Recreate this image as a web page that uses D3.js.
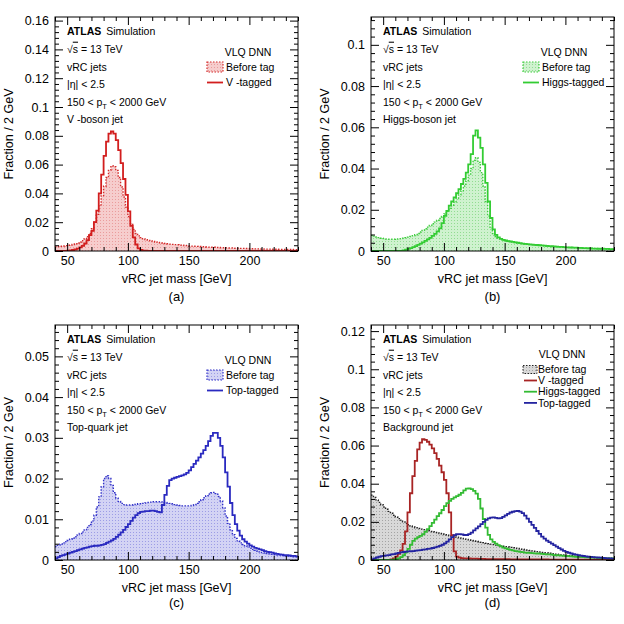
<!DOCTYPE html>
<html><head><meta charset="utf-8">
<script src="https://cdn.jsdelivr.net/npm/d3@7"></script>
<style>
body{margin:0;background:#fff}
svg{display:block}
text{font-family:"Liberation Sans",Arial,Helvetica,sans-serif;fill:#000}
</style>
</head><body>
<svg id="chart" width="624" height="624"></svg>
<script>
// ---------- data ----------
const binStart = 40, binWidth = 2;           // 100 bins of 2 GeV: 40..240
const xTicks = [50, 100, 150, 200];
const aYTicks = [0, 0.02, 0.04, 0.06, 0.08, 0.1, 0.12, 0.14, 0.16];
const bYTicks = [0, 0.02, 0.04, 0.06, 0.08, 0.1];
const cYTicks = [0, 0.01, 0.02, 0.03, 0.04, 0.05];
const dYTicks = [0, 0.02, 0.04, 0.06, 0.08, 0.1, 0.12];

// (a) V-boson jet
const aBefore = [
.0030,.0031,.0033,.0035,.0037,.0040,.0042,.0045,.0050,.0056,
.0063,.0072,.0085,.0100,.0122,.0155,.0200,.0255,.0320,.0385,
.0450,.0510,.0560,.0590,.0585,.0560,.0510,.0445,.0375,.0305,
.0240,.0190,.0150,.0122,.0105,.0093,.0085,.0079,.0074,.0070,
.0066,.0063,.0060,.0057,.0055,.0052,.0050,.0048,.0046,.0044,
.0043,.0041,.0040,.0038,.0037,.0035,.0034,.0033,.0032,.0031,
.0030,.0029,.0028,.0027,.0026,.0026,.0025,.0024,.0023,.0023,
.0022,.0021,.0021,.0020,.0019,.0019,.0018,.0018,.0017,.0017,
.0016,.0016,.0015,.0015,.0014,.0014,.0013,.0013,.0013,.0012,
.0012,.0012,.0011,.0011,.0011,.0010,.0010,.0010,.0009,.0009];
const aVTagged = [
0,0,0,0,0,.0002,.0004,.0007,.0011,.0017,
.0025,.0036,.0052,.0075,.0110,.0140,.0200,.0280,.0400,.0530,
.0660,.0760,.0815,.0830,.0815,.0770,.0700,.0610,.0500,.0390,
.0275,.0175,.0095,.0045,.0018,.0007,.0003,.0002,.0001,.0001,
.0001,.0001,.0001,.0001,.0001,.0001,.0001,.0001,.0001,.0001,
.0001,.0001,.0001,.0001,.0001,0,0,0,0,0,
0,0,0,0,0,0,0,0,0,0,
0,0,0,0,0,0,0,0,0,0,
0,0,0,0,0,0,0,0,0,0,
0,0,0,0,0,0,0,0,0,0];

// (b) Higgs-boson jet
const bBefore = [
.0076,.0072,.0068,.0065,.0062,.0060,.0058,.0057,.0057,.0057,
.0058,.0059,.0060,.0062,.0064,.0067,.0070,.0074,.0079,.0085,
.0092,.0100,.0108,.0116,.0124,.0132,.0140,.0149,.0158,.0168,
.0180,.0193,.0207,.0222,.0238,.0255,.0272,.0292,.0315,.0340,
.0368,.0400,.0440,.0452,.0430,.0380,.0315,.0240,.0170,.0115,
.0085,.0070,.0062,.0057,.0053,.0050,.0047,.0045,.0043,.0041,
.0039,.0037,.0036,.0034,.0033,.0031,.0030,.0029,.0028,.0027,
.0026,.0025,.0024,.0023,.0022,.0021,.0021,.0020,.0019,.0019,
.0018,.0017,.0017,.0016,.0016,.0015,.0015,.0014,.0014,.0013,
.0013,.0012,.0012,.0012,.0011,.0011,.0010,.0010,.0010,.0009];
const bHiggsTagged = [
0,0,0,0,0,0,0,0,0,0,
0,0,0,.0003,.0006,.0010,.0014,.0019,.0024,.0030,
.0036,.0042,.0049,.0056,.0064,.0073,.0083,.0095,.0110,.0135,
.0170,.0195,.0220,.0240,.0260,.0280,.0300,.0325,.0350,.0380,
.0420,.0470,.0560,.0585,.0550,.0500,.0420,.0330,.0240,.0160,
.0105,.0078,.0066,.0059,.0054,.0051,.0048,.0046,.0044,.0042,
.0040,.0038,.0036,.0035,.0033,.0032,.0031,.0030,.0029,.0028,
.0027,.0026,.0025,.0024,.0023,.0022,.0021,.0020,.0020,.0019,
.0018,.0018,.0017,.0016,.0016,.0015,.0015,.0014,.0014,.0013,
.0013,.0012,.0012,.0011,.0011,.0011,.0010,.0010,.0009,.0009];

// (c) Top-quark jet
const cBefore = [
.0033,.0036,.0039,.0042,.0045,.0048,.0051,.0054,.0057,.0061,
.0065,.0069,.0074,.0080,.0087,.0096,.0110,.0130,.0155,.0180,
.0200,.0207,.0200,.0183,.0165,.0152,.0144,.0139,.0136,.0135,
.0135,.0135,.0136,.0137,.0138,.0138,.0139,.0140,.0141,.0142,
.0143,.0143,.0143,.0143,.0142,.0141,.0140,.0139,.0138,.0136,
.0135,.0134,.0133,.0133,.0133,.0133,.0134,.0136,.0139,.0143,
.0148,.0153,.0158,.0162,.0165,.0166,.0163,.0156,.0145,.0128,
.0108,.0090,.0074,.0062,.0053,.0047,.0042,.0038,.0035,.0032,
.0029,.0026,.0024,.0022,.0020,.0018,.0017,.0016,.0015,.0014,
.0013,.0012,.0012,.0011,.0010,.0010,.0009,.0009,.0008,.0008];
const cTopTagged = [
.0004,.0007,.0010,.0012,.0014,.0016,.0018,.0020,.0022,.0024,
.0026,.0028,.0030,.0031,.0033,.0034,.0035,.0035,.0036,.0037,
.0039,.0042,.0045,.0048,.0052,.0057,.0062,.0068,.0074,.0081,
.0088,.0096,.0104,.0110,.0115,.0118,.0119,.0120,.0120,.0121,
.0121,.0120,.0118,.0117,.0135,.0160,.0182,.0196,.0200,.0202,
.0204,.0206,.0208,.0210,.0214,.0220,.0228,.0236,.0244,.0252,
.0261,.0270,.0280,.0292,.0305,.0312,.0312,.0300,.0280,.0252,
.0215,.0180,.0140,.0110,.0088,.0072,.0060,.0051,.0045,.0040,
.0036,.0033,.0030,.0028,.0026,.0024,.0022,.0020,.0019,.0018,
.0016,.0015,.0014,.0013,.0012,.0012,.0011,.0010,.0010,.0009];

// (d) Background jet
const dBefore = [
.0340,.0328,.0315,.0302,.0290,.0278,.0266,.0255,.0245,.0235,
.0226,.0217,.0209,.0200,.0192,.0185,.0179,.0174,.0169,.0165,
.0162,.0159,.0156,.0153,.0150,.0148,.0145,.0142,.0139,.0136,
.0133,.0130,.0127,.0124,.0121,.0119,.0116,.0113,.0111,.0108,
.0106,.0103,.0101,.0098,.0096,.0093,.0091,.0088,.0086,.0083,
.0081,.0078,.0076,.0074,.0072,.0070,.0068,.0066,.0064,.0062,
.0060,.0058,.0056,.0054,.0052,.0050,.0048,.0046,.0044,.0042,
.0040,.0038,.0037,.0035,.0033,.0032,.0030,.0029,.0027,.0026,
.0024,.0023,.0022,.0020,.0019,.0018,.0017,.0016,.0015,.0014,
.0014,.0013,.0012,.0012,.0011,.0011,.0010,.0010,.0009,.0009];
const dVTagged = [
0,0,0,0,0,0,0,0,.0003,.0008,
.0018,.0032,.0050,.0085,.0150,.0250,.0350,.0440,.0520,.0580,
.0615,.0633,.0630,.0620,.0605,.0585,.0560,.0530,.0495,.0460,
.0420,.0350,.0250,.0130,.0045,.0018,.0012,.0010,.0009,.0008,
.0008,.0007,.0007,.0007,.0006,.0006,.0006,.0005,.0005,.0005,
.0005,.0004,.0004,.0004,.0004,.0004,.0004,.0003,.0003,.0003,
.0003,.0003,.0003,.0003,.0003,.0003,.0003,.0003,.0003,.0003,
.0003,.0003,.0003,.0002,.0002,.0002,.0002,.0002,.0002,.0002,
.0002,.0002,.0002,.0002,.0002,.0002,.0002,.0002,.0002,.0002,
.0002,.0002,.0002,.0001,.0001,.0001,.0001,.0001,.0001,.0001];
const dHiggsTagged = [
0,0,0,0,0,0,0,0,0,.0002,
.0005,.0009,.0015,.0025,.0040,.0058,.0080,.0100,.0112,.0120,
.0126,.0135,.0148,.0162,.0178,.0195,.0212,.0230,.0245,.0262,
.0282,.0298,.0310,.0320,.0328,.0335,.0342,.0352,.0365,.0374,
.0376,.0372,.0362,.0348,.0320,.0270,.0215,.0170,.0132,.0108,
.0095,.0086,.0078,.0071,.0065,.0061,.0057,.0053,.0050,.0047,
.0045,.0043,.0041,.0039,.0038,.0037,.0036,.0035,.0034,.0033,
.0032,.0031,.0030,.0029,.0028,.0026,.0025,.0024,.0023,.0022,
.0021,.0020,.0019,.0018,.0017,.0016,.0016,.0015,.0014,.0014,
.0013,.0012,.0012,.0011,.0010,.0010,.0009,.0009,.0008,.0008];
const dTopTagged = [
.0003,.0008,.0013,.0017,.0020,.0022,.0024,.0026,.0029,.0031,
.0034,.0037,.0040,.0042,.0044,.0045,.0046,.0047,.0049,.0050,
.0052,.0054,.0056,.0058,.0060,.0063,.0066,.0070,.0074,.0080,
.0087,.0096,.0108,.0120,.0130,.0135,.0136,.0134,.0131,.0131,
.0136,.0144,.0155,.0166,.0176,.0188,.0200,.0210,.0218,.0222,
.0223,.0221,.0218,.0220,.0226,.0234,.0242,.0249,.0253,.0256,
.0257,.0254,.0246,.0233,.0217,.0200,.0184,.0168,.0152,.0137,
.0123,.0112,.0102,.0094,.0086,.0078,.0070,.0062,.0055,.0048,
.0043,.0038,.0034,.0031,.0028,.0026,.0023,.0021,.0019,.0017,
.0016,.0015,.0014,.0013,.0012,.0011,.0010,.0009,.0008,.0007];

// ---------- drawing ----------
const svg = d3.select("#chart");
const defs = svg.append("defs");
const FONT = '"Liberation Sans",Arial,Helvetica,sans-serif';

function makePattern(id, bg, dot) {
  const p = defs.append("pattern").attr("id", id).attr("width", 3).attr("height", 3)
    .attr("patternUnits", "userSpaceOnUse");
  p.append("rect").attr("width", 3).attr("height", 3).attr("fill", bg);
  p.append("rect").attr("x", 1).attr("y", 1).attr("width", 1).attr("height", 1).attr("fill", dot);
}

const panels = [
  { key: "a", left: 55, top: 17, right: 298, bottom: 251, yMax: 0.1625, yTicks: aYTicks, yMinor: 0.004,
    label: "(a)", labelY: 301, bg: "#f6cdcd", dot: "#ea9c9c", edge: "#d42a2a",
    before: aBefore, tagged: [{ v: aVTagged, c: "#d21e1e", n: "V -tagged" }], jet: "V -boson jet", small: false },
  { key: "b", left: 371, top: 17, right: 614, bottom: 251, yMax: 0.1135, yTicks: bYTicks, yMinor: 0.004,
    label: "(b)", labelY: 301, bg: "#cff2cf", dot: "#92dc92", edge: "#3ccc3c",
    before: bBefore, tagged: [{ v: bHiggsTagged, c: "#33cc33", n: "Higgs-tagged" }], jet: "Higgs-boson jet", small: false },
  { key: "c", left: 55, top: 325, right: 298, bottom: 560, yMax: 0.0577, yTicks: cYTicks, yMinor: 0.002,
    label: "(c)", labelY: 607, bg: "#d3d3f4", dot: "#9c9ce6", edge: "#3030c8",
    before: cBefore, tagged: [{ v: cTopTagged, c: "#2a2ac0", n: "Top-tagged" }], jet: "Top-quark jet", small: false },
  { key: "d", left: 371, top: 325, right: 614, bottom: 560, yMax: 0.1232, yTicks: dYTicks, yMinor: 0.004,
    label: "(d)", labelY: 607, bg: "#d8d8d8", dot: "#a4a4a4", edge: "#222",
    before: dBefore, tagged: [
      { v: dVTagged, c: "#a82424", n: "V -tagged" },
      { v: dHiggsTagged, c: "#33bb33", n: "Higgs-tagged" },
      { v: dTopTagged, c: "#2424a0", n: "Top-tagged" }],
    jet: "Background jet", small: true }
];

panels.forEach(P => {
  makePattern("pat-" + P.key, P.bg, P.dot);
  const x = d3.scaleLinear().domain([40, 240]).range([P.left, P.right]);
  const y = d3.scaleLinear().domain([0, P.yMax]).range([P.bottom, P.top]);
  const W = P.right - P.left;

  defs.append("clipPath").attr("id", "clip-" + P.key).append("rect")
    .attr("x", P.left).attr("y", P.top).attr("width", W).attr("height", P.bottom - P.top);

  const toPts = vals => {
    const pts = vals.map((v, i) => [binStart + i * binWidth, v]);
    pts.push([binStart + vals.length * binWidth, vals[vals.length - 1]]);
    return pts;
  };
  const line = d3.line().x(d => x(d[0])).y(d => y(d[1])).curve(d3.curveStepAfter);
  const area = d3.area().x(d => x(d[0])).y0(y(0)).y1(d => y(d[1])).curve(d3.curveStepAfter);

  const g = svg.append("g").attr("clip-path", `url(#clip-${P.key})`);
  const bp = toPts(P.before);
  g.append("path").attr("d", area(bp)).attr("fill", `url(#pat-${P.key})`);
  g.append("path").attr("d", line(bp)).attr("fill", "none").attr("stroke", P.edge)
    .attr("stroke-width", 1.4).attr("stroke-dasharray", "1.5,1.5");
  P.tagged.forEach(t => {
    g.append("path").attr("d", line(toPts(t.v))).attr("fill", "none").attr("stroke", t.c)
      .attr("stroke-width", 1.8);
  });

  // frame
  svg.append("rect").attr("x", P.left).attr("y", P.top).attr("width", W).attr("height", P.bottom - P.top)
    .attr("fill", "none").attr("stroke", "#000").attr("stroke-width", 1);

  // axes
  const xMinor = d3.range(40, 241, 10).filter(v => v % 50 !== 0);
  const yMinor = d3.range(0, P.yMax, P.yMinor).filter(v => !P.yTicks.some(t => Math.abs(t - v) < 1e-9));
  const fmt = d => d === 0 ? "0" : String(+d.toFixed(3));

  const styleAxis = sel => {
    sel.select(".domain").remove();
    sel.selectAll("line").attr("stroke", "#000");
    sel.selectAll("text").style("font-family", FONT).style("font-size", "12.5px").attr("fill", "#000");
  };
  svg.append("g").attr("transform", `translate(0,${P.bottom})`)
    .call(d3.axisBottom(x).tickValues(xTicks).tickSize(-8).tickPadding(5).tickFormat(d3.format("d"))).call(styleAxis);
  svg.append("g").attr("transform", `translate(0,${P.bottom})`)
    .call(d3.axisBottom(x).tickValues(xMinor).tickSize(-4).tickFormat("")).call(styleAxis);
  svg.append("g").attr("transform", `translate(0,${P.top})`)
    .call(d3.axisTop(x).tickValues(xTicks).tickSize(-8).tickFormat("")).call(styleAxis);
  svg.append("g").attr("transform", `translate(0,${P.top})`)
    .call(d3.axisTop(x).tickValues(xMinor).tickSize(-4).tickFormat("")).call(styleAxis);
  svg.append("g").attr("transform", `translate(${P.left},0)`)
    .call(d3.axisLeft(y).tickValues(P.yTicks).tickSize(-8).tickPadding(6).tickFormat(fmt)).call(styleAxis);
  svg.append("g").attr("transform", `translate(${P.left},0)`)
    .call(d3.axisLeft(y).tickValues(yMinor).tickSize(-4).tickFormat("")).call(styleAxis);
  svg.append("g").attr("transform", `translate(${P.right},0)`)
    .call(d3.axisRight(y).tickValues(P.yTicks).tickSize(-8).tickFormat("")).call(styleAxis);
  svg.append("g").attr("transform", `translate(${P.right},0)`)
    .call(d3.axisRight(y).tickValues(yMinor).tickSize(-4).tickFormat("")).call(styleAxis);

  // axis titles
  svg.append("text").attr("x", (P.left + P.right) / 2).attr("y", P.bottom + 31.5)
    .attr("text-anchor", "middle").style("font-size", "12.5px").text("vRC jet mass [GeV]");
  svg.append("text").attr("transform", `translate(${P.left - 42},${(P.top + P.bottom) / 2}) rotate(-90)`)
    .attr("text-anchor", "middle").style("font-size", "12.5px").text("Fraction / 2 GeV");
  svg.append("text").attr("x", (P.left + P.right) / 2).attr("y", P.labelY)
    .attr("text-anchor", "middle").style("font-size", "13px").text(P.label);

  // info block
  const tx = P.left + 12, fs = "10.5px";
  const offs = [14, 32, 50, 67.5, 85, 102.5].map(o => P.top + o + 3.7);
  const t0 = svg.append("text").attr("x", tx).attr("y", offs[0]).style("font-size", fs);
  t0.append("tspan").style("font-weight", "bold").text("ATLAS");
  t0.append("tspan").attr("dx", 5).text("Simulation");
  const t1 = svg.append("text").attr("x", tx).attr("y", offs[1]).style("font-size", fs);
  t1.append("tspan").text("√");
  t1.append("tspan").style("text-decoration", "overline").text("s");
  t1.append("tspan").text(" = 13 TeV");
  svg.append("text").attr("x", tx).attr("y", offs[2]).style("font-size", fs).text("vRC jets");
  svg.append("text").attr("x", tx).attr("y", offs[3]).style("font-size", fs).text("|η| < 2.5");
  const t4 = svg.append("text").attr("x", tx).attr("y", offs[4]).style("font-size", fs);
  t4.append("tspan").text("150 < p");
  t4.append("tspan").attr("dy", 3.5).style("font-size", "7.5px").text("T");
  t4.append("tspan").attr("dy", -3.5).text(" < 2000 GeV");
  svg.append("text").attr("x", tx).attr("y", offs[5]).style("font-size", fs).text(P.jet);

  // legend
  if (!P.small) {
    svg.append("text").attr("x", P.right - 50).attr("y", P.top + 38.5).attr("text-anchor", "middle")
      .style("font-size", "10.5px").text("VLQ DNN");
    svg.append("rect").attr("x", P.right - 91).attr("y", P.top + 45).attr("width", 16).attr("height", 10)
      .attr("fill", `url(#pat-${P.key})`).attr("stroke", P.edge).attr("stroke-width", 1.2)
      .attr("stroke-dasharray", "1.5,1.5");
    svg.append("text").attr("x", P.right - 72).attr("y", P.top + 53.5).style("font-size", "10.5px").text("Before tag");
    const t = P.tagged[0];
    svg.append("line").attr("x1", P.right - 91).attr("x2", P.right - 75)
      .attr("y1", P.top + 65.5).attr("y2", P.top + 65.5).attr("stroke", t.c).attr("stroke-width", 1.8);
    svg.append("text").attr("x", P.right - 72).attr("y", P.top + 69.3).style("font-size", "10.5px").text(t.n);
  } else {
    svg.append("text").attr("x", P.right - 52).attr("y", P.top + 32.7).attr("text-anchor", "middle")
      .style("font-size", "10.5px").text("VLQ DNN");
    svg.append("rect").attr("x", P.right - 91).attr("y", P.top + 40.5).attr("width", 14).attr("height", 8)
      .attr("fill", `url(#pat-${P.key})`).attr("stroke", P.edge).attr("stroke-width", 1)
      .attr("stroke-dasharray", "1.5,1.5");
    svg.append("text").attr("x", P.right - 76).attr("y", P.top + 47.7).style("font-size", "10.5px").text("Before tag");
    P.tagged.forEach((t, i) => {
      const cy = P.top + 55.5 + i * 11.2;
      svg.append("line").attr("x1", P.right - 90).attr("x2", P.right - 77)
        .attr("y1", cy).attr("y2", cy).attr("stroke", t.c).attr("stroke-width", 1.8);
      svg.append("text").attr("x", P.right - 76).attr("y", cy + 3.7).style("font-size", "10.5px").text(t.n);
    });
  }
});
</script>
</body></html>
